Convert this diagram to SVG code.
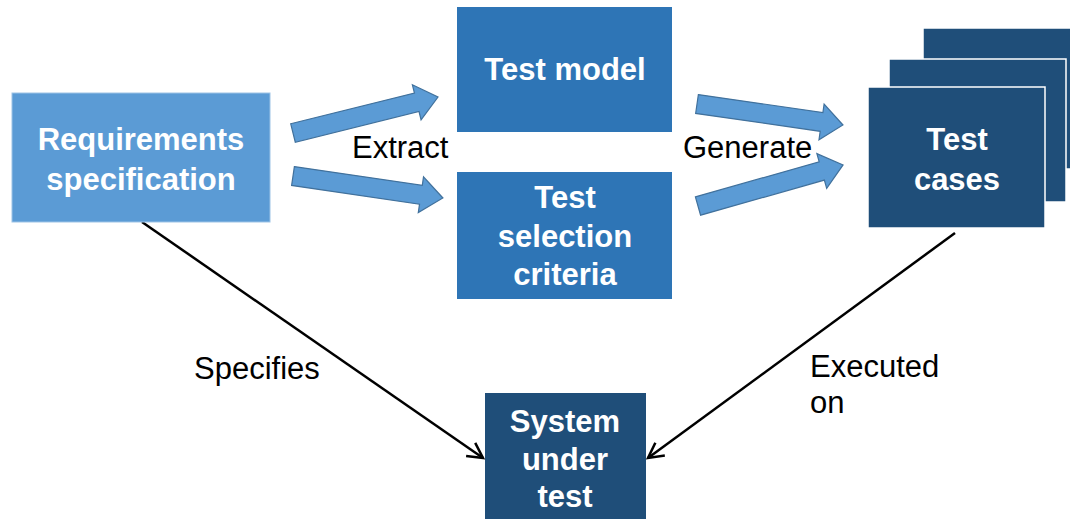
<svg xmlns="http://www.w3.org/2000/svg" width="1070" height="519" viewBox="0 0 1070 519">
<style>
.nt{font-family:"Liberation Sans",Arial,sans-serif;font-weight:bold;font-size:31px;fill:#fff;text-anchor:middle}
.lb{font-family:"Liberation Sans",Arial,sans-serif;font-size:31px;fill:#000}
.blk{fill:#5b9bd5;stroke:#41719c;stroke-width:1.2}
.ln{stroke:#000;stroke-width:2.5;fill:none}
</style>
<defs>
<path id="ba" d="M0,-9.5 L128,-9.5 L128,-18 L150,0 L128,18 L128,9.5 L0,9.5 Z"/>
<marker id="oa" viewBox="0 0 20 20" refX="17" refY="10" markerWidth="20" markerHeight="20" markerUnits="userSpaceOnUse" orient="auto">
<polyline points="2,2 17,10 2,18" fill="none" stroke="#000" stroke-width="2.5"/>
</marker>
</defs>
<rect width="1070" height="519" fill="#fff"/>
<g id="connectors">
<use href="#ba" class="blk" transform="translate(293,133) rotate(-13.94) scale(0.996,1)"/>
<use href="#ba" class="blk" transform="translate(293,176) rotate(8.34) scale(1.01,1)"/>
<use href="#ba" class="blk" transform="translate(697,104) rotate(8.18) scale(0.983,1)"/>
<use href="#ba" class="blk" transform="translate(698,206) rotate(-15.8) scale(1.005,1)"/>
<line class="ln" x1="142" y1="222" x2="483" y2="458" marker-end="url(#oa)"/>
<line class="ln" x1="955" y1="233" x2="648" y2="458" marker-end="url(#oa)"/>
<text class="lb" x="352" y="158">Extract</text>
<text class="lb" x="683" y="158">Generate</text>
<text class="lb" x="194" y="379">Specifies</text>
<text class="lb" x="810" y="377">Executed</text>
<text class="lb" x="810" y="413">on</text>
</g>
<g id="requirements">
<rect x="12" y="93" width="258" height="129" fill="#5b9bd5" stroke="#9dc3e6" stroke-width="1"/>
<text class="nt" x="141" y="150">Requirements</text>
<text class="nt" x="141" y="190">specification</text>
</g>
<g id="test-model">
<rect x="457" y="7" width="215" height="125" fill="#2e75b6"/>
<text class="nt" x="565" y="80">Test model</text>
</g>
<g id="test-selection">
<rect x="457" y="172" width="215" height="127" fill="#2e75b6"/>
<text class="nt" x="565" y="208">Test</text>
<text class="nt" x="565" y="247">selection</text>
<text class="nt" x="565" y="285">criteria</text>
</g>
<g id="test-cases">
<rect x="923" y="28" width="177" height="141" fill="#1f4e79" stroke="#fff" stroke-width="1.5"/>
<rect x="889" y="59" width="177" height="143" fill="#1f4e79" stroke="#fff" stroke-width="1.5"/>
<rect x="868" y="87" width="177" height="141" fill="#1f4e79" stroke="#fff" stroke-width="1.5"/>
<text class="nt" x="957" y="150">Test</text>
<text class="nt" x="957" y="190">cases</text>
</g>
<g id="system-under-test">
<rect x="485" y="393" width="161" height="140" fill="#1f4e79"/>
<text class="nt" x="565" y="432">System</text>
<text class="nt" x="565" y="470">under</text>
<text class="nt" x="565" y="507">test</text>
</g>
</svg>
